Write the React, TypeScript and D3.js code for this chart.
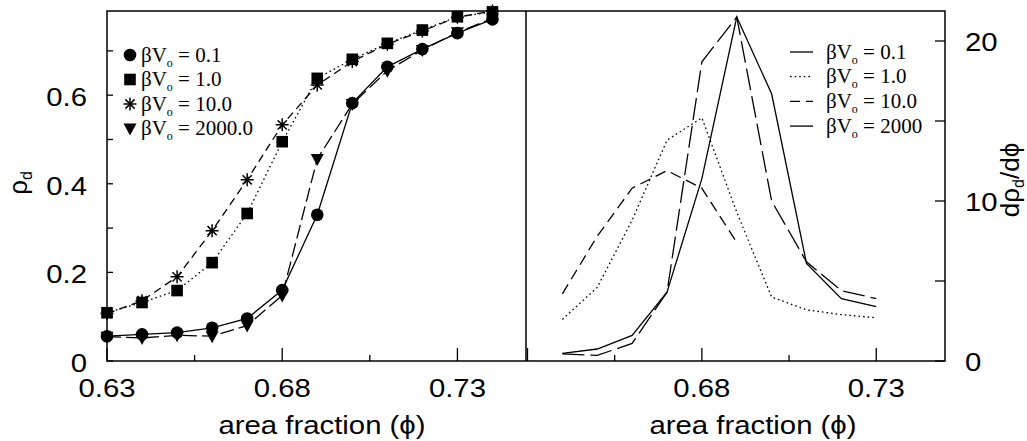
import React from 'react';
import * as d3 from 'd3';

// Area fraction values sampled on the left (density) panel
const phiLeft = [0.63, 0.64, 0.65, 0.66, 0.67, 0.68, 0.69, 0.70, 0.71, 0.72, 0.73, 0.74];
// rho_d for each interaction strength
const rhoV01 = [0.056, 0.060, 0.064, 0.075, 0.096, 0.160, 0.330, 0.582, 0.664, 0.704, 0.740, 0.771];
const rhoV1 = [0.109, 0.132, 0.159, 0.222, 0.333, 0.495, 0.638, 0.681, 0.717, 0.747, 0.777, 0.788];
const rhoV10 = [0.107, 0.136, 0.190, 0.294, 0.409, 0.533, 0.623, 0.676, 0.715, 0.745, 0.776, 0.790];
const rhoV2000 = [0.055, 0.052, 0.058, 0.056, 0.080, 0.148, 0.456, 0.580, 0.655, 0.702, 0.742, 0.773];

// Derivative d rho_d / d phi on the right panel
const phiRight = [0.64, 0.65, 0.66, 0.67, 0.68, 0.69, 0.70, 0.71, 0.72, 0.73];
const dV01 = [0.48, 0.75, 1.6, 4.3, 11.4, 21.5, 16.7, 6.1, 3.9, 3.4];
const dV1 = [2.6, 4.6, 8.8, 13.8, 15.2, 9.3, 4.0, 3.2, 2.9, 2.7];
const phiRight10 = [0.64, 0.65, 0.66, 0.67, 0.68, 0.69];
const dV10 = [4.2, 7.8, 10.8, 11.9, 10.8, 7.4];
const dV2000 = [0.45, 0.35, 1.1, 4.3, 18.7, 21.5, 10.0, 6.2, 4.4, 3.9];

const xMajorTicks = [0.63, 0.68, 0.73];
const xMinorTicks = [0.655, 0.705];
const xLabelsLeft = ['0.63', '0.68', '0.73'];
const xLabelsRight = ['0.68', '0.73'];
const yTicksLeft = [0, 0.1, 0.2, 0.3, 0.4, 0.5, 0.6, 0.7];
const yLabelsLeft = [0, 0.2, 0.4, 0.6];
const yTicksRight = [0, 5, 10, 15, 20];
const yLabelsRight = [0, 10, 20];
const legendLeft = ['0.1', '1.0', '10.0', '2000.0'];
const legendRight = ['0.1', '1.0', '10.0', '2000'];

const SANS = '"Liberation Sans", Arial, Helvetica, sans-serif';
const SERIF = '"Liberation Serif", "Times New Roman", serif';

const TOP = 11;
const BOTTOM = 361;
const LX0 = 107;
const MID = 526;
const RX1 = 945;

const xL = d3.scaleLinear().domain([0.63, 0.75]).range([107, 527.5]);
const xR = d3.scaleLinear().domain([0.63, 0.75]).range([527.5, 946]);
const yL = d3.scaleLinear().domain([0, 0.79]).range([BOTTOM, TOP]);
const yR = d3.scaleLinear().domain([0, 21.875]).range([BOTTOM, TOP]);

const STRETCH = 1.15;

function SansText({ x, y, anchor, children }: { x: number; y: number; anchor: string; children: React.ReactNode }) {
  return (
    <text
      transform={`translate(${x},${y}) scale(${STRETCH},1)`}
      textAnchor={anchor}
      fontFamily={SANS}
      fontSize={25.5}
      fill="#000"
    >
      {children}
    </text>
  );
}

function BetaLabel({ x, y, value }: { x: number; y: number; value: string }) {
  return (
    <text x={x} y={y} fontFamily={SERIF} fontSize={21} fill="#000">
      βV
      <tspan fontSize={12} dy={5}>o</tspan>
      <tspan dy={-5}>{` = ${value}`}</tspan>
    </text>
  );
}

function Circle({ x, y }: { x: number; y: number }) {
  return <circle cx={x} cy={y} r={6.3} fill="#000" />;
}
function Square({ x, y }: { x: number; y: number }) {
  return <rect x={x - 5.8} y={y - 5.8} width={11.6} height={11.6} fill="#000" />;
}
function TriangleDown({ x, y }: { x: number; y: number }) {
  return <path d={`M${x - 6.5},${y - 5} L${x + 6.5},${y - 5} L${x},${y + 7} Z`} fill="#000" />;
}
function Asterisk({ x, y }: { x: number; y: number }) {
  const r = 6.5;
  const d = r * Math.SQRT1_2;
  return (
    <path
      d={`M${x},${y - r}V${y + r}M${x - r},${y}H${x + r}M${x - d},${y - d}L${x + d},${y + d}M${x - d},${y + d}L${x + d},${y - d}`}
      stroke="#000"
      strokeWidth={1.5}
      fill="none"
    />
  );
}

function pathOf(xs: number[], ys: number[], sx: d3.ScaleLinear<number, number>, sy: d3.ScaleLinear<number, number>) {
  const gen = d3
    .line<number>()
    .x((_, i) => sx(xs[i]))
    .y((v) => sy(v));
  return gen(ys) || '';
}

export default function App() {
  const lineStyle = { fill: 'none', stroke: '#000', strokeWidth: 1.3 };

  const leftSeries = [
    { ys: rhoV01, dash: undefined, Marker: Circle },
    { ys: rhoV1, dash: '1.6,3', Marker: Square },
    { ys: rhoV10, dash: '8,5', Marker: Asterisk },
    { ys: rhoV2000, dash: '14,5', Marker: TriangleDown },
  ];

  const rightSeries = [
    { xs: phiRight, ys: dV01, dash: undefined },
    { xs: phiRight, ys: dV1, dash: '1.6,3' },
    { xs: phiRight10, ys: dV10, dash: '11,6' },
    { xs: phiRight, ys: dV2000, dash: '22,6' },
  ];
  const legendDash = [undefined, '1.6,3', '10,6', '24,6'];
  const LegendMarkers = [Circle, Square, Asterisk, TriangleDown];

  return (
    <svg
      width={1027}
      height={441}
      style={{ position: 'absolute', left: 0, top: 0, background: '#fff' }}
    >
      <rect x={0} y={0} width={1027} height={441} fill="#fff" />

      {/* left panel curves */}
      {leftSeries.map((s, i) => (
        <path key={`ll${i}`} d={pathOf(phiLeft, s.ys, xL, yL)} {...lineStyle} strokeDasharray={s.dash} />
      ))}
      {leftSeries.map((s, i) =>
        s.ys.map((v, j) => <s.Marker key={`lm${i}-${j}`} x={xL(phiLeft[j])} y={yL(v)} />)
      )}

      {/* right panel curves */}
      {rightSeries.map((s, i) => (
        <path key={`rl${i}`} d={pathOf(s.xs, s.ys, xR, yR)} {...lineStyle} strokeDasharray={s.dash} />
      ))}

      {/* frames */}
      <rect x={LX0} y={TOP} width={RX1 - LX0} height={BOTTOM - TOP} fill="none" stroke="#000" strokeWidth={1.5} />
      <line x1={MID} y1={TOP} x2={MID} y2={BOTTOM} stroke="#000" strokeWidth={1.5} />

      {/* x ticks */}
      {[xL, xR].map((sx, k) => (
        <g key={`xt${k}`} stroke="#000" strokeWidth={1.3}>
          {xMajorTicks.map((t) => (
            <line key={`M${t}`} x1={sx(t)} x2={sx(t)} y1={BOTTOM} y2={BOTTOM - 13} />
          ))}
          {xMinorTicks.map((t) => (
            <line key={`m${t}`} x1={sx(t)} x2={sx(t)} y1={BOTTOM} y2={BOTTOM - 6} />
          ))}
        </g>
      ))}

      {/* left y ticks */}
      <g stroke="#000" strokeWidth={1.3}>
        {yTicksLeft.map((t) => (
          <line key={t} x1={LX0} x2={LX0 + 6} y1={yL(t)} y2={yL(t)} />
        ))}
      </g>
      {/* right y ticks */}
      <g stroke="#000" strokeWidth={1.3}>
        {yTicksRight.map((t) => (
          <line key={t} x1={RX1 - 10} x2={RX1} y1={yR(t)} y2={yR(t)} />
        ))}
      </g>

      {/* tick labels */}
      {yLabelsLeft.map((t) => (
        <SansText key={`yl${t}`} x={87} y={yL(t) + 11} anchor="end">
          {String(t)}
        </SansText>
      ))}
      {yLabelsRight.map((t) => (
        <SansText key={`yr${t}`} x={965} y={yR(t) + 10} anchor="start">
          {String(t)}
        </SansText>
      ))}
      {xLabelsLeft.map((t) => (
        <SansText key={`xl${t}`} x={xL(+t)} y={397} anchor="middle">
          {t}
        </SansText>
      ))}
      {xLabelsRight.map((t) => (
        <SansText key={`xr${t}`} x={xR(+t)} y={397} anchor="middle">
          {t}
        </SansText>
      ))}

      {/* axis titles */}
      <SansText x={322} y={434} anchor="middle">area fraction (ϕ)</SansText>
      <SansText x={753} y={434} anchor="middle">area fraction (ϕ)</SansText>
      <text transform="translate(27,183) rotate(-90)" textAnchor="middle" fontFamily={SANS} fontSize={26} fill="#000">
        ρ<tspan fontSize={16} dy={5}>d</tspan>
      </text>
      <text transform="translate(1019,180) rotate(-90)" textAnchor="middle" fontFamily={SANS} fontSize={26} fill="#000">
        dρ<tspan fontSize={16} dy={5}>d</tspan>
        <tspan dy={-5}>/dϕ</tspan>
      </text>

      {/* left legend */}
      {legendLeft.map((v, i) => {
        const cy = 55 + i * 24.5;
        const M = LegendMarkers[i];
        return (
          <g key={`lg${i}`}>
            <M x={130} y={cy} />
            <BetaLabel x={141} y={cy + 6.5} value={v} />
          </g>
        );
      })}

      {/* right legend */}
      {legendRight.map((v, i) => {
        const cy = 52 + i * 24.7;
        return (
          <g key={`rg${i}`}>
            <line x1={790} x2={813} y1={cy} y2={cy} stroke="#000" strokeWidth={1.3} strokeDasharray={legendDash[i]} />
            <BetaLabel x={826} y={cy + 6.5} value={v} />
          </g>
        );
      })}
    </svg>
  );
}
